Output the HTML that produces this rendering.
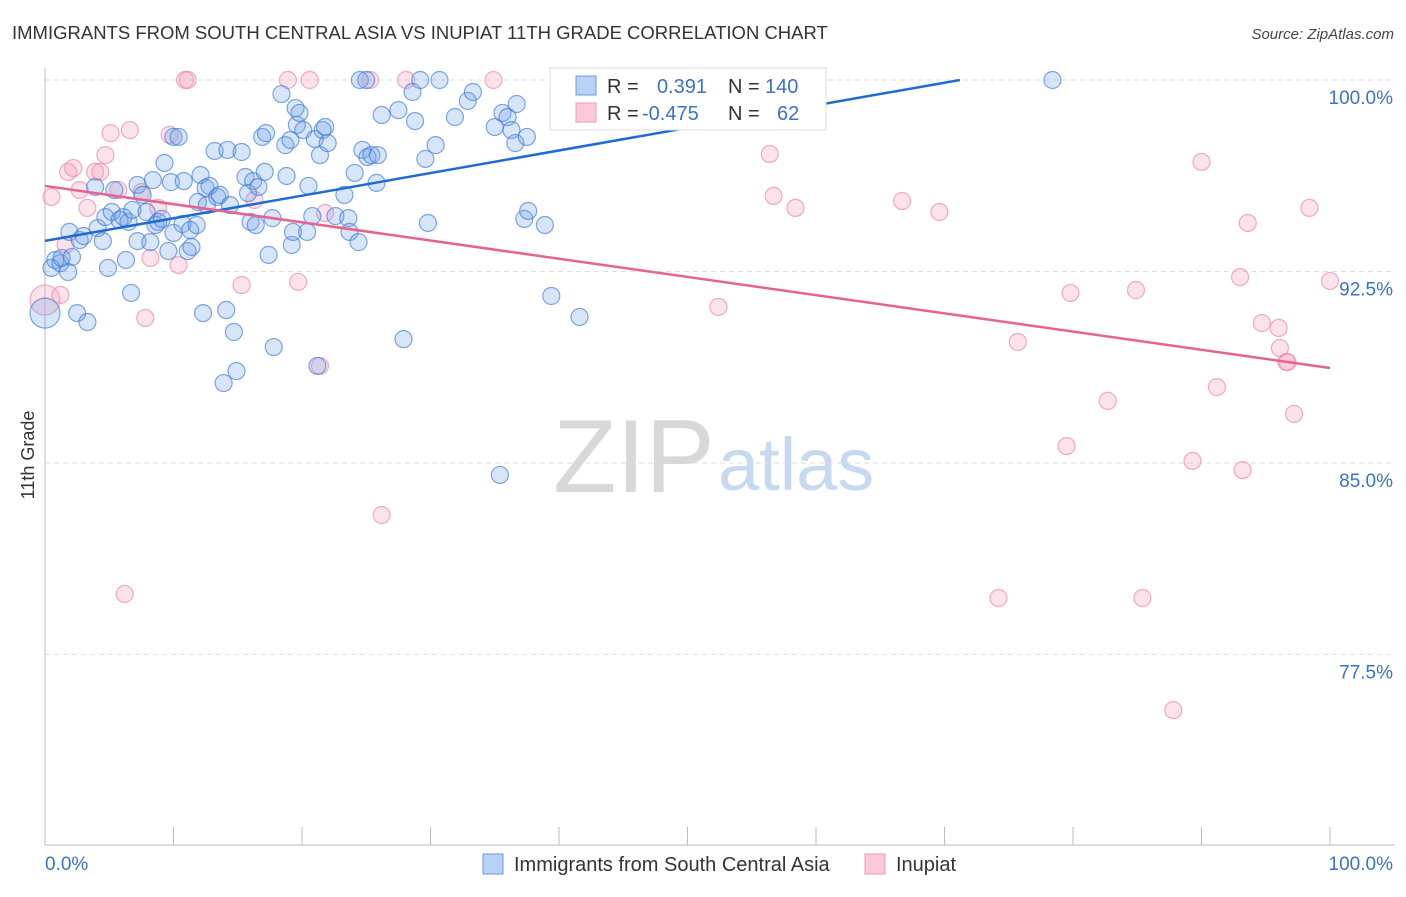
<!DOCTYPE html>
<html><head><meta charset="utf-8"><style>
body{margin:0;background:#fff;font-family:"Liberation Sans",sans-serif;}
svg text{font-family:"Liberation Sans",sans-serif;}
</style></head><body>
<svg id="chart" width="1406" height="892" xmlns="http://www.w3.org/2000/svg">
<text x="12" y="39" font-size="18.5" fill="#333">IMMIGRANTS FROM SOUTH CENTRAL ASIA VS INUPIAT 11TH GRADE CORRELATION CHART</text>
<text x="1394" y="39" font-size="15" fill="#444" text-anchor="end" font-style="italic">Source: ZipAtlas.com</text>
<g>
<text x="553" y="492" font-size="104" fill="#d8d8d8" font-family="Liberation Serif, serif">ZIP</text>
<text x="718" y="490" font-size="74" fill="#c7d9f0">atlas</text>
</g>
<g id="grid"></g>
<g id="axes"></g>
<g id="pinkPts"></g>
<g id="bluePts"></g>
<g id="lines"></g>
<text transform="translate(34,455) rotate(-90)" font-size="18" fill="#333" text-anchor="middle">11th Grade</text>
<g>
<rect x="550" y="68" width="276" height="62" fill="#fff" stroke="#ddd"/>
<rect x="576" y="76" width="20" height="19" fill="#b8d2f5" stroke="#6a9be0"/>
<rect x="576" y="103" width="20" height="19" fill="#fbc9d7" stroke="#ee9cb4"/>
<text x="607" y="93" font-size="20" fill="#333">R =</text>
<text x="657" y="93" font-size="20" fill="#3a72c8">0.391</text>
<text x="728" y="93" font-size="20" fill="#333">N =</text>
<text x="765" y="93" font-size="20" fill="#3a72c8">140</text>
<text x="607" y="120" font-size="20" fill="#333">R =</text>
<text x="642" y="120" font-size="20" fill="#3a72c8">-0.475</text>
<text x="728" y="120" font-size="20" fill="#333">N =</text>
<text x="777" y="120" font-size="20" fill="#3a72c8">62</text>
</g>
<g>
<rect x="483" y="854" width="20" height="20" fill="#b8d2f5" stroke="#6a9be0"/>
<text x="514" y="871" font-size="20" fill="#333">Immigrants from South Central Asia</text>
<rect x="865" y="854" width="20" height="20" fill="#fbc9d7" stroke="#ee9cb4"/>
<text x="896" y="871" font-size="20" fill="#333">Inupiat</text>
</g>
</svg>
<script>
const yTicks=[100,92.5,85,77.5];
const yTickLabels=["100.0%","92.5%","85.0%","77.5%"];
const xTicks=[0,10,20,30,40,50,60,70,80,90,100];
const blueX=[0,0.5,0.8,1.2,1.3,1.8,1.9,2.1,2.5,2.7,3.0,3.3,3.9,4.1,4.5,4.7,4.9,5.2,5.4,5.8,6.1,6.3,6.5,6.7,6.8,7.2,7.2,7.6,7.9,8.2,8.4,8.6,8.8,9.1,9.3,9.6,9.8,10.0,10.0,10.4,10.7,10.8,11.1,11.3,11.4,11.8,11.9,12.1,12.3,12.5,12.6,12.8,13.2,13.4,13.6,13.9,14.1,14.2,14.4,14.7,14.9,15.3,15.6,15.8,16.0,16.2,16.4,16.6,16.9,17.1,17.2,17.4,17.7,17.8,18.4,18.7,18.8,19.1,19.2,19.3,19.5,19.6,19.8,20.1,20.4,20.5,20.8,21.2,21.0,21.4,21.6,21.8,22.0,22.6,23.3,23.6,23.7,24.1,24.4,24.5,24.7,25.0,25.1,25.4,25.8,25.9,26.2,27.5,27.9,28.6,28.8,29.2,29.6,29.8,30.4,30.7,31.9,32.9,33.3,35.0,35.4,35.6,36.0,36.3,36.6,36.7,37.3,37.5,37.6,38.9,39.4,41.6,78.4];
const blueY=[90.87,92.64,92.95,92.83,93.03,92.48,94.05,93.07,90.87,93.73,93.89,90.52,95.81,94.20,93.69,94.63,92.64,94.83,95.69,94.52,94.63,92.95,94.44,91.66,94.91,95.89,93.69,95.50,94.83,93.65,96.08,94.32,94.44,94.56,96.75,93.30,96.00,97.77,94.01,97.77,94.36,96.04,93.30,94.12,93.46,94.32,95.22,96.28,90.87,95.77,95.10,95.85,97.22,95.42,95.50,88.13,90.99,97.26,95.10,90.13,88.60,97.18,96.20,95.57,94.44,96.04,94.32,95.81,97.77,96.40,97.92,93.15,94.59,89.54,99.45,97.45,96.24,97.65,93.54,94.05,98.90,98.24,98.71,98.04,94.05,95.85,94.67,88.80,97.69,97.06,98.04,98.16,97.53,94.67,95.50,94.59,94.05,96.36,93.65,100,97.26,100,96.98,97.06,95.97,97.06,98.63,98.82,89.85,99.53,98.39,100,96.91,94.40,97.45,100,98.55,99.18,99.53,98.16,84.53,98.71,98.55,98.04,97.53,99.06,94.56,97.77,94.87,94.32,91.54,90.72,100];
const pinkX=[0,0.5,1.2,1.6,1.8,2.2,2.7,3.3,3.9,4.3,4.7,5.1,5.7,6.2,6.6,7.5,7.8,8.2,8.8,9.7,10.4,10.9,11.1,15.3,16.3,18.9,19.7,20.6,21.4,21.8,25.3,26.2,28.1,34.9,47.1,52.4,56.4,56.7,58.4,66.7,69.6,74.2,75.7,79.5,79.8,82.7,84.9,85.4,87.8,89.3,90.0,91.2,93.0,93.2,93.6,94.7,96.0,96.1,96.6,96.7,97.2,98.4,100];
const pinkY=[91.38,95.42,91.58,93.54,96.40,96.55,95.69,94.99,96.40,96.40,97.06,97.92,95.69,79.87,98.04,95.61,90.68,93.03,94.99,97.85,92.75,100,100,91.97,95.30,100,92.09,100,88.80,94.79,100,82.96,100,100,100,91.11,97.10,95.46,94.99,95.26,94.83,79.71,89.74,85.66,91.66,87.43,91.77,79.71,75.32,85.08,96.79,87.97,92.28,84.72,94.40,90.48,90.29,89.50,88.95,88.95,86.92,94.99,92.13];
const blueTrend=[[0,93.7],[71.2,100]];
const pinkTrend=[[0,95.85],[100,88.72]];

const NS="http://www.w3.org/2000/svg";
const X=p=>45+p*12.85;
const Y=v=>80+(100-v)*25.53;
function mk(tag,attrs,parent){const e=document.createElementNS(NS,tag);for(const k in attrs)e.setAttribute(k,attrs[k]);parent.appendChild(e);return e;}
const grid=document.getElementById('grid'),axes=document.getElementById('axes');
yTicks.forEach((t,i)=>{
  const l=mk('line',{x1:45,x2:1395,y1:Y(t),y2:Y(t),stroke:'#ddd','stroke-dasharray':'5,4'},grid);
  
  
  const tx=mk('text',{x:1393,y:Y(t)+24,'font-size':19,fill:'#3a72c8','text-anchor':'end'},axes);
  tx.textContent=yTickLabels[i];
  
  
});
mk('line',{x1:45,x2:45,y1:68,y2:845,stroke:'#bbb'},axes);
mk('line',{x1:45,x2:1395,y1:845,y2:845,stroke:'#bbb'},axes);
xTicks.forEach(t=>{
  const l=mk('line',{x1:X(t),x2:X(t),y1:827,y2:845,stroke:'#bbb'},axes);
  
  
});
let a=mk('text',{x:45,y:870,'font-size':19,fill:'#3a72c8'},axes);a.textContent='0.0%';


a=mk('text',{x:1393,y:870,'font-size':19,fill:'#3a72c8','text-anchor':'end'},axes);a.textContent='100.0%';



const pp=document.getElementById('pinkPts');
pinkX.forEach((x,i)=>{
  const c=mk('circle',{cx:X(x),cy:Y(pinkY[i]),r:i==0?15:8.5,fill:'rgba(245,160,185,0.3)',stroke:'rgba(235,130,160,0.65)','stroke-width':1.2},pp);
  
  
});
const bp=document.getElementById('bluePts');
blueX.forEach((x,i)=>{
  const c=mk('circle',{cx:X(x),cy:Y(blueY[i]),r:i==0?15:8.5,fill:'rgba(110,160,230,0.28)',stroke:'rgba(60,120,215,0.65)','stroke-width':1.2},bp);
  
  
});
const lg=document.getElementById('lines');
let bl=mk('line',{x1:X(blueTrend[0][0]),y1:Y(blueTrend[0][1]),x2:X(blueTrend[1][0]),y2:Y(blueTrend[1][1]),stroke:'#1f6bd6','stroke-width':2.5},lg);


let pl=mk('line',{x1:X(pinkTrend[0][0]),y1:Y(pinkTrend[0][1]),x2:X(pinkTrend[1][0]),y2:Y(pinkTrend[1][1]),stroke:'#e8628f','stroke-width':2.5},lg);


</script>
</body></html>
